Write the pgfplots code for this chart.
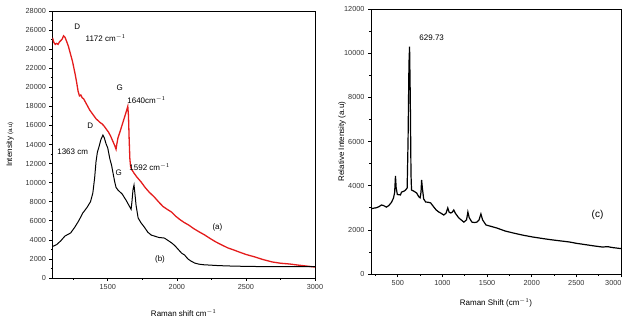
\documentclass[border=0pt]{standalone}
\usepackage{pgfplots}
\pgfplotsset{compat=1.18}
\usepackage{fontspec}
\setmainfont{Liberation Sans}
\definecolor{specred}{RGB}{228,28,28}

\pgfplotstableread{
x y
1100 25200
1110 24700
1120 24500
1130 24600
1140 24500
1150 24750
1160 24900
1170 25050
1180 25400
1190 25250
1200 24900
1215 24300
1230 23500
1245 22700
1255 22000
1265 21300
1275 20500
1285 19600
1295 19100
1305 19200
1315 18900
1325 18800
1340 18400
1355 18000
1370 17600
1385 17300
1400 17000
1415 16700
1430 16500
1445 16300
1460 16150
1475 15900
1490 15600
1505 15300
1520 14900
1535 14400
1550 13900
1560 13500
1565 14000
1574 14700
1590 15400
1605 16100
1620 16800
1635 17500
1645 18000
1650 17000
1655 14500
1660 12500
1665 11700
1672 11400
1690 11000
1710 10600
1742 10060
1770 9500
1800 9000
1837 8490
1870 7950
1900 7500
1930 7200
1961 6920
1990 6500
2020 6150
2050 5850
2085 5560
2120 5200
2160 4850
2202 4510
2240 4150
2280 3800
2326 3460
2370 3150
2410 2950
2450 2730
2500 2470
2567 2200
2620 1950
2691 1680
2750 1550
2815 1470
2880 1350
2940 1250
3000 1150
}\seriesA

\pgfplotstableread{
x y
1100 3300
1107 3350
1130 3500
1160 3900
1190 4400
1231 4720
1260 5300
1290 6000
1319 6810
1350 7400
1375 8000
1392 8910
1405 10500
1415 12200
1425 13200
1436 13730
1450 14500
1465 14990
1475 14700
1487 14100
1500 13630
1515 12500
1528 11800
1538 11010
1550 10100
1560 9500
1574 9220
1590 9000
1605 8800
1618 8490
1635 8100
1650 7700
1669 7200
1675 8000
1683 9300
1690 9750
1697 8800
1705 7600
1720 6290
1740 5800
1764 5350
1790 4800
1815 4500
1837 4400
1870 4250
1910 4190
1940 3900
1965 3650
1985 3400
2010 3000
2035 2600
2056 2410
2080 2000
2105 1750
2129 1570
2160 1450
2200 1380
2231 1360
2300 1300
2400 1250
2500 1220
2600 1200
2700 1200
2800 1180
2900 1180
3000 1180
}\seriesB

\pgfplotstableread{
x y
200 2950
230 2980
260 3000
290 3050
316 3125
340 3100
373 3030
400 3100
430 3250
452 3440
465 3700
474 4440
482 3900
495 3600
530 3580
542 3710
570 3750
587 3800
605 3900
615 6000
625 9500
632 10300
640 8000
648 4500
654 3800
680 3750
711 3670
735 3500
750 3450
760 3700
767 4260
775 3900
790 3400
812 3260
840 3250
868 3220
900 3050
930 2900
958 2810
985 2750
1015 2670
1040 2750
1060 2990
1075 2800
1093 2760
1110 2800
1127 2900
1145 2750
1183 2540
1210 2450
1240 2350
1270 2450
1285 2810
1300 2550
1330 2350
1360 2330
1386 2350
1410 2450
1431 2720
1450 2450
1488 2220
1550 2150
1611 2080
1700 1950
1800 1850
1900 1760
2005 1680
2100 1620
2200 1560
2300 1510
2422 1450
2500 1390
2600 1330
2700 1270
2794 1220
2850 1240
2900 1200
3000 1150
}\seriesC

\begin{document}
\begin{tikzpicture}[x=1pt,y=1pt]
\path[use as bounding box] (0,0) rectangle (627,327);
\pgfplotsset{
  myax/.style={
    scale only axis,
    axis line style={line width=0.8pt},
    tick align=outside,
    tick pos=left,
    major tick length=3pt,
    minor tick length=1.8pt,
    every tick/.style={black,line width=0.6pt},
    scaled ticks=false,
    /pgf/number format/1000 sep={},
    /pgf/number format/assume math mode=true,
    tick label style={font=\fontsize{7.3}{8}\selectfont, text=black!80},
    label style={font=\fontsize{8}{9}\selectfont},
    clip=true,
  }
}
\begin{axis}[myax,
  at={(52.5pt,49pt)}, anchor=south west,
  width=262.5pt, height=267pt,
  xmin=1100, xmax=3000, ymin=0, ymax=28000,
  xtick={1500,2000,2500,3000},
  minor xtick={1250,1750,2250,2750},
  ytick={0,2000,...,28000},
  minor ytick={1000,3000,...,27000},
  xlabel={Raman shift cm$^{-1}$},
  ylabel={Intensity {\fontsize{6}{7}\selectfont(a.u)}},
  xlabel style={at={(axis description cs:0.5,0)}, anchor=center, yshift=-35pt},
  ylabel style={at={(axis description cs:-0.162,0.5)}, anchor=center},
]
\addplot[specred, line width=1.3pt] table[x=x,y=y] {\seriesA};
\addplot[black, line width=1.0pt] table[x=x,y=y] {\seriesB};
\begin{scope}[every node/.style={font=\fontsize{8}{9}\selectfont, inner sep=0.5pt}]
\node at (axis cs:1279,26400) {D};
\node[anchor=west] at (axis cs:1335,25150) {1172 cm$^{-1}$};
\node at (axis cs:1586,19900) {G};
\node[anchor=west] at (axis cs:1637,18650) {1640cm$^{-1}$};
\node at (axis cs:1374,15930) {D};
\node[anchor=west] at (axis cs:1130,13200) {1363 cm};
\node at (axis cs:1580,11000) {G};
\node[anchor=west] at (axis cs:1652,11630) {1592 cm$^{-1}$};
\node at (axis cs:2294,5340) {(a)};
\node at (axis cs:1878,1990) {(b)};
\end{scope}
\end{axis}

\begin{axis}[myax,
  at={(371pt,53pt)}, anchor=south west,
  width=250pt, height=265pt,
  xmin=200, xmax=3000, ymin=0, ymax=12000,
  xtick={500,1000,...,2500},
  extra x ticks={3000},
  extra x tick style={xticklabel style={anchor=north east, xshift=4pt}},
  minor xtick={250,750,...,2750},
  ytick={0,2000,...,12000},
  minor ytick={1000,3000,...,11000},
  xlabel={Raman Shift (cm$^{-1}$)},
  ylabel={Relative Intensity (a.u)},
  xlabel style={at={(axis description cs:0.5,0)}, anchor=center, yshift=-29pt},
  ylabel style={at={(axis description cs:-0.116,0.5)}, anchor=center},
]
\addplot[black, line width=1.2pt] table[x=x,y=y] {\seriesC};
\node[font=\fontsize{8}{9}\selectfont] at (axis cs:880,10690) {629.73};
\node[font=\fontsize{10}{11}\selectfont] at (axis cs:2737,2670) {(c)};
\end{axis}
\end{tikzpicture}
\end{document}
